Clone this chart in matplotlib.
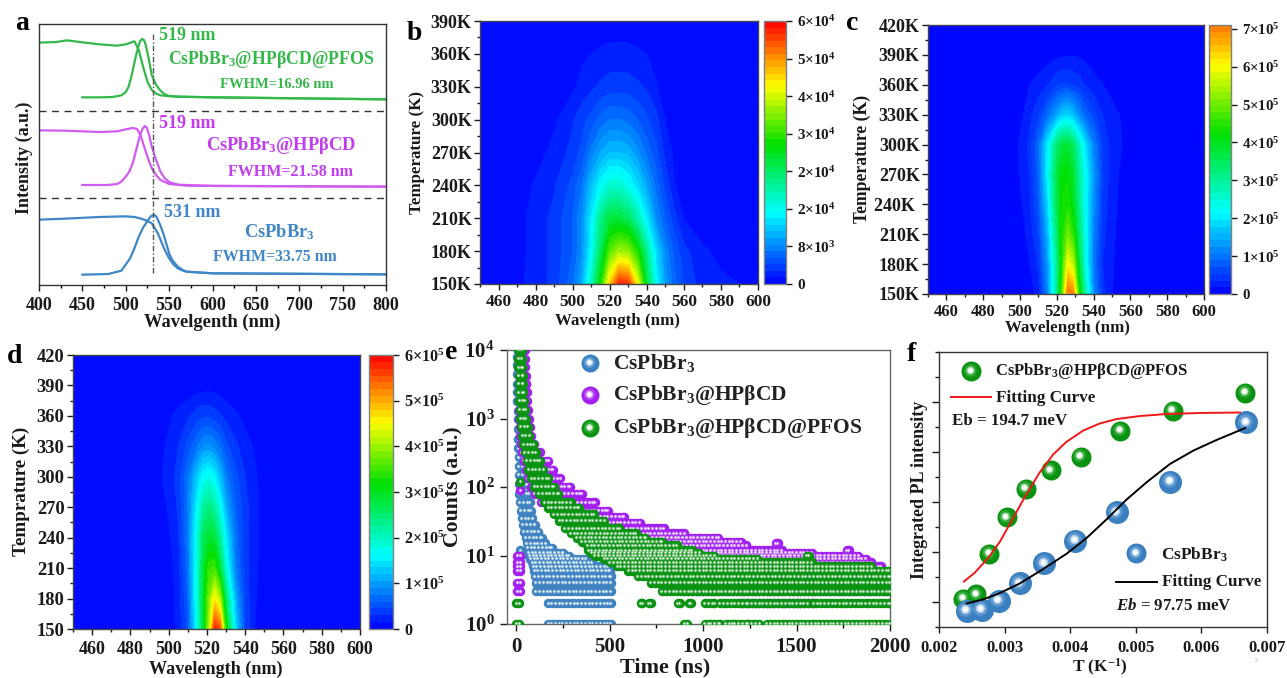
import numpy as np
import matplotlib
matplotlib.use('Agg')
import matplotlib.pyplot as plt
from matplotlib.colors import LinearSegmentedColormap, Normalize
from matplotlib.ticker import MultipleLocator, NullFormatter
from matplotlib.transforms import Affine2D

W, H = 1287, 678

plt.rcParams['font.family'] = 'Liberation Serif'
plt.rcParams['font.weight'] = 'bold'
plt.rcParams['axes.labelweight'] = 'bold'
plt.rcParams['mathtext.fontset'] = 'custom'
plt.rcParams['mathtext.rm'] = 'Liberation Serif:bold'
plt.rcParams['mathtext.bf'] = 'Liberation Serif:bold'
plt.rcParams['mathtext.it'] = 'Liberation Serif:italic:bold'
plt.rcParams['mathtext.default'] = 'rm'

GREEN = '#35b84a'
MAGENTA = '#c23cf0'
BLUE = '#3f87c6'
INK = '#1a1a1a'
EDGE = '#444444'

# panel a, spectra (offset intensity in a.u.)
a_green_abs_wl = [400, 420, 432, 450, 470, 490, 500, 510, 515, 520, 525, 530, 535, 540, 548, 560, 600, 700, 800]
a_green_abs = [727, 729, 734, 728, 722, 718, 722, 731, 705, 655, 610, 585, 574, 569, 567, 565, 563, 560, 557]
a_green_pl_wl = [450, 470, 485, 495, 500, 503, 506, 509, 512, 515, 517, 519, 521, 523, 526, 530, 535, 540, 545, 550, 560, 600, 700, 800]
a_green_pl = [563, 563, 564, 569, 579, 593, 620, 655, 690, 720, 733, 738, 735, 720, 685, 630, 600, 583, 572, 567, 565, 563, 560, 557]
a_mag_abs_wl = [400, 430, 470, 490, 500, 508, 513, 517, 520, 525, 530, 535, 540, 550, 570, 800]
a_mag_abs = [464, 463, 459, 461, 467, 471, 468, 450, 425, 385, 350, 330, 315, 303, 298, 295]
a_mag_pl_wl = [450, 480, 490, 495, 500, 504, 508, 512, 516, 519, 522, 524, 527, 530, 535, 540, 545, 550, 560, 600, 800]
a_mag_pl = [300, 300, 303, 310, 325, 340, 365, 405, 445, 467, 477, 473, 450, 415, 375, 340, 320, 309, 301, 297, 295]
a_blue_abs_wl = [400, 430, 470, 500, 510, 515, 520, 525, 530, 537, 541, 545, 550, 555, 560, 565, 570, 600, 800]
a_blue_abs = [196, 199, 204, 206, 204, 201, 197, 192, 185, 155, 130, 105, 80, 62, 50, 44, 40, 35, 32]
a_blue_pl_wl = [450, 480, 495, 505, 510, 515, 520, 525, 528, 530, 532, 534, 536, 538, 540, 543, 545, 548, 550, 553, 555, 560, 565, 570, 600, 800]
a_blue_pl = [31, 33, 43, 80, 110, 145, 172, 192, 203, 208, 210, 209, 202, 190, 178, 157, 140, 113, 95, 78, 70, 55, 46, 40, 35, 32]

# panel b, intensity map in units of 1e3
b_wl = [450, 470, 480, 490, 500, 505, 510, 515, 520, 525, 530, 535, 540, 545, 550, 555, 560, 570, 580, 590, 600]
b_temp = [150, 180, 210, 240, 270, 300, 330, 360, 390]
b_z = [
    [0, 1.2, 2.0, 3.5, 7, 11, 20, 32, 48, 58, 57, 45, 28, 16, 10, 6.5, 4.5, 2.2, 1.7, 1.5, 0],
    [0, 1.0, 2, 3.5, 6, 9, 16, 26, 36, 40, 39, 33, 23, 14, 8.5, 5.5, 3.5, 1.7, 1.2, 0.8, 0],
    [0, 1, 2, 3.5, 6, 9, 15, 23, 28, 28, 26, 21, 15, 9, 6, 3.5, 1.4, 0.8, 0.5, 0, 0],
    [0, 0.5, 1.7, 2.8, 5, 7.5, 12, 16, 19, 19, 17, 14, 10.5, 7, 4, 1.6, 0.8, 0.3, 0, 0, 0],
    [0, 0, 0.8, 2, 3.5, 5, 8, 10.5, 12, 12, 11.5, 9.5, 7, 5, 2.5, 1.1, 0.4, 0, 0, 0, 0],
    [0, 0, 0.3, 1.2, 2.8, 4, 5, 6.5, 7.5, 7.5, 7, 6, 4.8, 3.5, 1.5, 0.8, 0.2, 0, 0, 0, 0],
    [0, 0, 0, 0.4, 1.2, 2, 2.7, 3.3, 3.7, 3.8, 3.7, 3.3, 2.7, 1.6, 0.8, 0.2, 0, 0, 0, 0, 0],
    [0, 0, 0, 0, 0.8, 1.2, 1.5, 1.8, 2, 2, 2, 1.8, 1.5, 1.0, 0.3, 0, 0, 0, 0, 0, 0],
    [0, 0, 0, 0, 0, 0, 0, 0.2, 0.5, 0.5, 0.5, 0.2, 0, 0, 0, 0, 0, 0, 0, 0, 0],
]
b_cbar_labels = ['0', '8×10$^{3}$', '2×10$^{4}$', '2×10$^{4}$', '3×10$^{4}$', '4×10$^{4}$', '5×10$^{4}$', '6×10$^{4}$']

# panel c, intensity map in units of 1e4
c_wl = [450, 495, 500, 505, 510, 515, 520, 523, 526, 529, 532, 535, 540, 545, 550, 555, 560, 600]
c_temp = [150, 180, 210, 240, 270, 300, 330, 360, 390, 420]
c_z = [
    [0, 0, 0, 0.6, 2.5, 11, 30, 48, 72, 70, 45, 30, 12, 4, 1.8, 0.6, 0, 0],
    [0, 0, 0.4, 1.7, 4, 13, 30, 45, 60, 55, 38, 25, 10, 3.5, 2, 0.8, 0, 0],
    [0, 0, 1, 2.2, 5.5, 15, 33, 44, 50, 45, 34, 24, 11, 4, 2.2, 1, 0, 0],
    [0, 0.2, 1.4, 3, 7, 18, 36, 43, 44, 40, 31, 23, 12, 4.5, 2.4, 1.2, 0.2, 0],
    [0, 0.5, 1.8, 3.5, 8, 21, 37, 42, 42, 38, 30, 23, 13, 5, 2.6, 1.4, 0.4, 0],
    [0, 0.8, 2, 4, 9, 20, 33, 37, 38, 34, 27, 20, 11, 5, 2.8, 1.9, 0.6, 0],
    [0, 0.4, 1.2, 2.8, 5, 9, 14, 17, 18, 16, 12, 9, 6, 3.5, 2.5, 1.6, 0.2, 0],
    [0, 0, 0.5, 1.7, 2.5, 3.5, 5, 5.5, 5.5, 5, 4.5, 3.5, 2.4, 1.8, 1, 0.3, 0, 0],
    [0, 0, 0, 0, 0.5, 0.9, 1.3, 1.5, 1.6, 1.6, 1.5, 1.3, 0.8, 0.4, 0, 0, 0, 0],
    [0, 0, 0, 0, 0, 0, 0, 0, 0, 0, 0, 0, 0, 0, 0, 0, 0, 0],
]
c_cbar_labels = ['0', '1×10$^{5}$', '2×10$^{5}$', '3×10$^{5}$', '4×10$^{5}$', '5×10$^{5}$', '6×10$^{5}$', '7×10$^{5}$']

# panel d, intensity map in units of 1e4
d_wl = [450, 495, 500, 505, 510, 515, 518, 521, 524, 527, 530, 535, 540, 545, 550, 600]
d_temp = [150, 180, 210, 240, 270, 300, 330, 360, 390, 420]
d_z = [
    [0, 0, 0.5, 2, 5, 17, 28, 40, 58, 55, 32, 14, 4, 1.5, 0, 0],
    [0, 0, 0.6, 2, 6, 18, 28, 38, 46, 40, 25, 11, 4, 1.7, 0.5, 0],
    [0, 0, 0.8, 2.2, 7, 18, 28, 34, 35, 28, 18, 8, 3.5, 1.8, 0.8, 0],
    [0, 0.2, 1.2, 2.8, 7.5, 18, 26, 29, 28, 22, 15, 7, 3.5, 2, 0.8, 0],
    [0, 0.6, 1.7, 3.2, 7.5, 16, 22, 24, 22, 17, 11, 6, 3.5, 2, 0.8, 0],
    [0, 1.2, 2.2, 3.5, 7.5, 13, 16.5, 17.5, 15.5, 12, 8, 5, 3, 1.8, 0.6, 0],
    [0, 1, 1.8, 3, 5, 7.5, 9, 9.5, 8.5, 7, 5, 3.3, 2.2, 1.3, 0.2, 0],
    [0, 0, 1.2, 2, 2.8, 3.8, 4.2, 4.2, 3.7, 3.2, 2.5, 1.8, 1, 0.3, 0, 0],
    [0, 0, 0, 0.1, 0.3, 0.6, 0.75, 0.8, 0.7, 0.5, 0.3, 0.1, 0, 0, 0, 0],
    [0, 0, 0, 0, 0, 0, 0, 0, 0, 0, 0, 0, 0, 0, 0, 0],
]
d_cbar_labels = ['0', '1×10$^{5}$', '2×10$^{5}$', '3×10$^{5}$', '4×10$^{5}$', '5×10$^{5}$', '6×10$^{5}$']

# panel e, decay traces as rows of counts with the time span each row covers (ns)
e_blue_counts = [10000, 8000, 6000, 4500, 3200, 2400, 1800, 1300, 1000, 700, 500, 370, 270, 200, 150, 110, 80, 60, 45, 35, 28, 22, 18, 15, 13, 12, 11, 10, 10, 9, 8, 7, 6, 5, 4, 3, 2, 1]
e_blue_from = [8, 5, 5, 5, 5, 5, 5, 8, 8, 8, 10, 10, 12, 12, 12, 14, 14, 18, 25, 28, 35, 40, 50, 55, 60, 20, 65, 20, 70, 75, 85, 90, 95, 100, 105, 105, 170, 170]
e_blue_to = [18, 20, 22, 24, 26, 28, 30, 32, 34, 37, 40, 44, 48, 52, 56, 60, 66, 72, 78, 85, 100, 118, 135, 155, 190, 20, 250, 20, 280, 370, 405, 490, 500, 505, 505, 505, 505, 505]
e_mag_counts = [10000, 7500, 5600, 4200, 3200, 2400, 1800, 1350, 1000, 750, 560, 420, 320, 240, 180, 135, 100, 90, 80, 60, 45, 37, 30, 25, 21, 18, 16, 15, 14, 12, 12, 11, 10, 9, 8, 7, 6, 5, 4, 3, 2, 1,
                10, 8, 7, 6, 4, 3]
e_mag_from = [10, 10, 10, 12, 12, 12, 14, 14, 15, 18, 20, 25, 30, 40, 50, 60, 80, 20, 100, 130, 200, 250, 300, 350, 400, 450, 500, 1390, 550, 600, 1770, 600, 650, 650, 700, 700, 750, 800, 850, 900, 1200, 1240,
              5, 5, 5, 5, 5, 5]
e_mag_to = [45, 47, 49, 51, 53, 56, 58, 62, 66, 72, 80, 95, 125, 170, 195, 235, 285, 20, 350, 420, 490, 575, 660, 790, 900, 1080, 1200, 1400, 1230, 1420, 1780, 1580, 1830, 1870, 1900, 1950, 1970, 2000, 2000, 2000, 1600, 1240,
            20, 20, 20, 20, 20, 20]
e_green_counts = [10000, 7500, 5600, 4200, 3200, 2400, 1800, 1350, 1000, 750, 560, 420, 320, 240, 180, 135, 120, 100, 80, 60, 50, 40, 32, 25, 21, 18, 16, 14, 12, 11, 10, 10, 9, 8, 7, 6, 5, 4, 3,
                  2, 2, 2, 2, 2, 2, 2, 2, 2,
                  1, 1, 1, 1, 1, 1, 1, 1, 1]
e_green_from = [10, 10, 10, 12, 12, 14, 16, 18, 20, 25, 32, 38, 45, 55, 65, 80, 20, 95, 120, 150, 170, 200, 230, 260, 290, 325, 350, 380, 385, 400, 420, 1555, 470, 500, 540, 600, 650, 720, 780,
                0, 665, 710, 865, 925, 1010, 1090, 1240, 1590,
                0, 900, 1010, 1060, 1120, 1190, 1260, 1340, 1380]
e_green_to = [28, 30, 32, 34, 36, 38, 42, 47, 52, 60, 70, 90, 105, 125, 145, 170, 20, 200, 225, 290, 335, 415, 470, 550, 640, 690, 780, 860, 940, 980, 1060, 1565, 1290, 1580, 1900, 1990, 2000, 2000, 2000,
              15, 675, 720, 875, 935, 1060, 1230, 1560, 2000,
              15, 915, 1040, 1090, 1170, 1240, 1300, 1360, 2000]

# panel f, integrated PL against inverse temperature
f_green_x = [0.00237, 0.00256, 0.00276, 0.00303, 0.00332, 0.0037, 0.00416, 0.00476, 0.00556, 0.00667]
f_green_y = [1.07, 1.16, 1.97, 2.7, 3.27, 3.64, 3.91, 4.43, 4.83, 5.19]
f_blue_x = [0.00242, 0.00265, 0.00291, 0.00323, 0.0036, 0.00408, 0.00471, 0.00552, 0.00668]
f_blue_y = [0.83, 0.85, 1.03, 1.38, 1.78, 2.23, 2.8, 3.41, 4.6]
f_red_x = [0.00238, 0.00254, 0.00275, 0.00293, 0.00313, 0.00333, 0.00354, 0.00374, 0.00394, 0.0042, 0.00445, 0.00471, 0.00507, 0.00547, 0.00598, 0.00659]
f_red_y = [1.41, 1.58, 1.88, 2.21, 2.68, 3.15, 3.6, 3.95, 4.2, 4.43, 4.57, 4.66, 4.72, 4.76, 4.78, 4.79]
f_black_x = [0.00242, 0.00267, 0.00293, 0.00323, 0.00359, 0.00395, 0.00425, 0.00456, 0.00486, 0.00517, 0.00552, 0.00588, 0.00623, 0.00667]
f_black_y = [0.97, 1.05, 1.18, 1.37, 1.66, 1.97, 2.28, 2.66, 3.05, 3.4, 3.76, 4.03, 4.24, 4.48]

rainbow = LinearSegmentedColormap.from_list('pl_rainbow', [
    (0.0, '#0000ff'), (0.27, '#00ffff'), (0.53, '#00e000'),
    (0.755, '#ffff00'), (1.0, '#ff0000')])

# ball shadings: (area fraction, colour), outer layer first
TRACE_BLUE = [(1, '#3f82bf'), (0.14, '#8fbce0'), (0.03, 'white')]
TRACE_MAG = [(1, '#a21ff0'), (0.14, '#cf8cf5'), (0.03, 'white')]
TRACE_GREEN = [(1, '#0a9312'), (0.14, '#6cc070'), (0.03, 'white')]
BALL_BLUE = [(1, '#3a80c0'), (0.4, '#5c98ce'), (0.16, '#b4d2ec'), (0.06, 'white')]
BALL_MAG = [(1, '#a21ff0'), (0.4, '#b648f3'), (0.16, '#e0b4f9'), (0.06, 'white')]
BALL_GREEN = [(1, '#0a9312'), (0.4, '#2aa832'), (0.16, '#a4d8a7'), (0.06, 'white')]

fig = plt.figure(figsize=(W / 100, H / 100), dpi=100)
# pixel coordinates, origin at the top left of the picture
px = Affine2D().scale(1, -1).translate(0, H)


def make_axes(left, top, right, bottom):
    return fig.add_axes([left / W, 1 - bottom / H, (right - left) / W, (bottom - top) / H])


def put_text(x, y, s, size, color=INK, ha='left', va='center', **kw):
    fig.text(x / W, 1 - y / H, s, fontsize=size, color=color, ha=ha, va=va, zorder=20, **kw)


def axis_labels(ax, xlabel, xpos, ylabel, ypos, xsize, ysize):
    ax.set_xlabel(xlabel, fontsize=xsize, color=INK, va='center')
    ax.set_ylabel(ylabel, fontsize=ysize, color=INK, va='center')
    ax.xaxis.set_label_coords(xpos[0], xpos[1], transform=px)
    ax.yaxis.set_label_coords(ypos[0], ypos[1], transform=px)


def style_spines(ax, color=EDGE, width=1.0):
    for s in ax.spines.values():
        s.set_color(color)
        s.set_linewidth(width)


def spheres(ax, x, y, shading, d, **kw):
    # glossy ball built from stacked discs, the inner ones shifted up and left
    area = (d / 100 * 72) ** 2
    shift = ax.transData + Affine2D().translate(-d * 0.06, d * 0.06)
    for i, (frac, col) in enumerate(shading):
        ax.scatter(x, y, s=area * frac, color=col, linewidths=0,
                   transform=ax.transData if i == 0 else shift, **kw)


def heatmap(box, cbox, wl, temp, z, vmax, top, ticks, tick_labels, ylabels, ticksize, xticksize, cbsize, xpad):
    ax = make_axes(*box)
    levels = np.linspace(0, top, 41)
    cs = ax.contourf(wl, temp, np.array(z), levels=levels, cmap=rainbow,
                     norm=Normalize(0, vmax), extend='neither')
    ax.set_xlim(450, 600)
    ax.set_xticks(np.arange(460, 601, 20))
    ax.xaxis.set_minor_locator(MultipleLocator(10))
    ax.set_ylim(150, temp[-1])
    ax.set_yticks(temp, ylabels)
    ax.yaxis.set_minor_locator(MultipleLocator(15))
    ax.tick_params(axis='x', labelsize=xticksize, colors=INK, length=4, width=1, pad=xpad)
    ax.tick_params(axis='y', labelsize=ticksize, colors=INK, length=4, width=1, pad=2)
    ax.tick_params(which='minor', length=2.5, width=1, colors=INK)
    style_spines(ax)
    cax = make_axes(*cbox)
    cb = fig.colorbar(cs, cax=cax)
    cb.set_ticks(ticks, labels=tick_labels)
    cb.minorticks_off()
    cb.ax.tick_params(labelsize=cbsize, colors=INK, length=4, width=1, pad=4)
    cb.outline.set_edgecolor('#808080')
    cb.outline.set_linewidth(1)
    return ax


# a
ax = make_axes(39, 24, 386, 285)
ax.plot(a_green_abs_wl, a_green_abs, color=GREEN, lw=1.6)
ax.plot(a_green_pl_wl, a_green_pl, color=GREEN, lw=1.6)
ax.plot(a_mag_abs_wl, a_mag_abs, color='#d05cf0', lw=1.6)
ax.plot(a_mag_pl_wl, a_mag_pl, color='#d05cf0', lw=1.6)
ax.plot(a_blue_abs_wl, a_blue_abs, color=BLUE, lw=1.6)
ax.plot(a_blue_pl_wl, a_blue_pl, color=BLUE, lw=1.6)
ax.axhline(523, color='#333333', lw=1, ls=(0, (5, 4)))
ax.axhline(260, color='#333333', lw=1, ls=(0, (5, 4)))
ax.plot([531.5, 531.5], [35, 760], color='#555555', lw=1, ls=(0, (4, 1.5, 1, 1.5)))
ax.set_xlim(400, 800)
ax.set_ylim(0, 783)
ax.set_yticks([])
ax.set_xticks(np.arange(400, 801, 50))
ax.xaxis.set_minor_locator(MultipleLocator(25))
ax.tick_params(axis='x', labelsize=13, colors=INK, length=4, width=1, pad=5)
ax.tick_params(axis='x', which='minor', length=2.5, width=1)
style_spines(ax, '#333333')
axis_labels(ax, 'Wavelgenth (nm)', (212, 322), 'Intensity (a.u.)', (24, 158), 13.3, 13)
put_text(159, 35, '519 nm', 13, GREEN)
put_text(168, 59, 'CsPbBr$_{3}$@HPβCD@PFOS', 12.8, GREEN)
put_text(220, 84, 'FWHM=16.96 nm', 10.5, GREEN)
put_text(159, 124, '519 nm', 13, MAGENTA)
put_text(206, 145, 'CsPbBr$_{3}$@HPβCD', 13.3, MAGENTA)
put_text(228, 172, 'FWHM=21.58 nm', 11.5, MAGENTA)
put_text(164, 213, '531 nm', 13, BLUE)
put_text(244, 232, 'CsPbBr$_{3}$', 13.3, BLUE)
put_text(213, 257, 'FWHM=33.75 nm', 11.4, BLUE)

# b
bstep = 60 / 7
ax = heatmap((480, 21, 758, 284), (764, 21, 786, 284), b_wl, b_temp, b_z, 60, 60,
             [bstep * i for i in range(8)], b_cbar_labels,
             ['150K', '180K', '210K', '240K', '270K', '300K', '330K', '360K', '390K'], 13, 12.5, 11, 3)
axis_labels(ax, 'Wavelength (nm)', (617, 321), 'Temperature (K)', (417, 153), 12.2, 12.2)

# c
ax = heatmap((928, 25, 1204, 294), (1209, 25, 1231, 294), c_wl, c_temp, c_z, 80, 71,
             [10 * i for i in range(8)], c_cbar_labels,
             ['150K', '180K', '210K', '240K ', '270K', '300K', '330K', '360K', '390K', '420K'], 13, 12, 10.7, 3)
axis_labels(ax, 'Wavelength (nm)', (1067, 328), 'Temperature (K)', (862, 159), 12.2, 12.7)

# d
ax = heatmap((73, 355, 360, 629), (369, 355, 393, 629), d_wl, d_temp, d_z, 60, 60,
             [10 * i for i in range(7)], d_cbar_labels,
             ['150', '180', '210', '240', '270', '300', '330', '360', '390', '420'], 13.3, 13, 11.6, 5)
axis_labels(ax, 'Wavelength (nm)', (216, 669), 'Temprature (K)', (21, 491), 13.1, 13.7)


def row_points(counts, t_from, t_to, step=20):
    # each row is a run of channels sharing one count
    t, c = [], []
    for n, a, b in zip(counts, t_from, t_to):
        ts = list(np.arange(a, b + 1, step))
        if ts[-1] != b:
            ts.append(b)
        t.extend(ts)
        c.extend([n] * len(ts))
    return t, c


# e
ax = make_axes(507, 350, 890, 624)
t, c = row_points(e_blue_counts, e_blue_from, e_blue_to)
spheres(ax, t, c, TRACE_BLUE, 9.5, zorder=2)
t, c = row_points(e_mag_counts, e_mag_from, e_mag_to)
spheres(ax, t, c, TRACE_MAG, 9.5, zorder=3)
t, c = row_points(e_green_counts, e_green_from, e_green_to)
spheres(ax, t, c, TRACE_GREEN, 9.5, zorder=4)
ax.set_yscale('log')
ax.set_xlim(-50, 2000)
ax.set_ylim(1, 1e4)
ax.set_xticks([0, 500, 1000, 1500, 2000])
ax.xaxis.set_minor_locator(MultipleLocator(250))
ax.set_yticks([1, 10, 100, 1000, 10000], ['10$^{0}$', '10$^{1}$', '10$^{2}$', '10$^{3}$', '10$^{4}$'])
ax.yaxis.set_minor_formatter(NullFormatter())
ax.tick_params(axis='both', labelsize=15, colors=INK, length=5, width=1, pad=4)
ax.tick_params(axis='both', which='minor', length=0)
ax.tick_params(axis='x', which='minor', length=3, width=1)
style_spines(ax, '#666666')
axis_labels(ax, 'Time (ns)', (665, 667), 'Counts (a.u.)', (453, 487), 15.9, 15.7)

# overlay in picture pixels for the hand-placed legends
lax = fig.add_axes([0, 0, 1, 1], facecolor='none')
lax.set_zorder(10)
lax.set_xlim(0, W)
lax.set_ylim(H, 0)
lax.axis('off')
legend_e = [(363, BALL_BLUE, 'CsPbBr$_{3}$'),
            (395, BALL_MAG, 'CsPbBr$_{3}$@HPβCD'),
            (428, BALL_GREEN, 'CsPbBr$_{3}$@HPβCD@PFOS')]
for y, shading, name in legend_e:
    spheres(lax, [590], [y], shading, 18, zorder=6)
    put_text(613, y, name, 15.5, '#222222')

# f
ax = make_axes(939, 352, 1267, 627)
spheres(ax, f_green_x, f_green_y, BALL_GREEN, 20, zorder=3)
spheres(ax, f_blue_x, f_blue_y, BALL_BLUE, 23, zorder=4)
ax.plot(f_red_x, f_red_y, color='#f01818', lw=1.4, zorder=5)
ax.plot(f_black_x, f_black_y, color='black', lw=1.4, zorder=5)
ax.set_xlim(0.002, 0.007)
ax.set_ylim(0.5, 6)
ax.set_xticks([0.002, 0.003, 0.004, 0.005, 0.006, 0.007], ['0.002', '0.003', '0.004', '0.005', '0.006', '0.007'])
ax.set_yticks([1, 2, 3, 4, 5])
ax.yaxis.set_minor_locator(MultipleLocator(0.5))
ax.tick_params(axis='y', labelleft=False, length=5, width=1, color=INK)
ax.tick_params(axis='y', which='minor', length=3, width=1, color=INK)
ax.tick_params(axis='x', labelsize=12, colors=INK, length=4, width=1, pad=5)
style_spines(ax, '#333333')
axis_labels(ax, 'T (K$^{-1}$)', (1100, 667), 'Integrated PL intensity', (919, 490), 12.5, 13)
spheres(lax, [971], [371], BALL_GREEN, 20, zorder=6)
put_text(995, 371, 'CsPbBr$_{3}$@HPβCD@PFOS', 12)
lax.plot([951, 991], [397, 397], color='#f01818', lw=1.4)
put_text(996, 398, 'Fitting Curve', 12.3)
put_text(952, 421, 'Eb = 194.7 meV', 12.2)
spheres(lax, [1136], [553], BALL_BLUE, 20, zorder=6)
put_text(1161, 555, 'CsPbBr$_{3}$', 12.5)
lax.plot([1116, 1157], [582, 582], color='black', lw=1.4)
put_text(1162, 582, 'Fitting Curve', 12.3)
put_text(1116, 606, r'$\mathit{Eb}$ = 97.75 meV', 12.2)
put_text(1255, 661, '2', 4, '#bbbbbb')

# panel letters
for letter, x, y in [('a', 15, 30), ('b', 407, 40), ('c', 846, 30),
                     ('d', 7, 363), ('e', 445, 359), ('f', 907, 361)]:
    put_text(x, y, letter, 20, 'black', va='baseline')

fig.savefig('out.png', dpi=100)
